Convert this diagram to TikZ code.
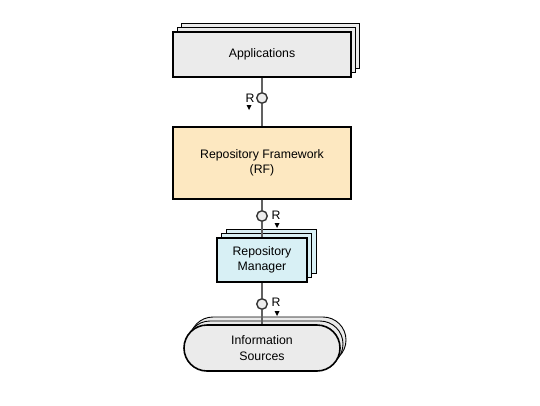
\documentclass[tikz,border=0pt]{standalone}
\usepackage{fontspec}
\setmainfont{Liberation Sans}
\begin{document}
\begin{tikzpicture}[x=1pt,y=-1pt,
  front/.style={draw=black,line width=1.6pt,inner sep=0pt,align=center,font=\fontsize{12.3}{15.5}\selectfont},
  back/.style={draw=black,line width=0.9pt,inner sep=0pt},
  conn/.style={draw=black!62,line width=1.5pt},
  iface/.style={circle,draw=black!80,fill=black!7,line width=1.4pt,minimum size=10.5pt,inner sep=0pt},
  rlabel/.style={inner sep=0pt,font=\fontsize{12.3}{14}\selectfont},
  tri/.style={fill=black}]
\useasboundingbox (0,0) rectangle (540,405);
% Applications
\node[back,fill=black!8,minimum width=178pt,minimum height=45pt] (app3) at (270,45.5) {};
\node[back,fill=black!8,minimum width=178pt,minimum height=45pt] (app2) at (266,50) {};
\node[front,fill=black!8,minimum width=178pt,minimum height=45pt] (app) at (262,54.5) {Applications};
% Repository Framework
\node[front,fill={rgb,255:red,253;green,232;blue,193},minimum width=178pt,minimum height=72pt] (rf) at (262,163) {Repository Framework\\(RF)};
% Repository Manager
\node[back,fill={rgb,255:red,216;green,240;blue,245},minimum width=90pt,minimum height=44pt] (rm3) at (271,251) {};
\node[back,fill={rgb,255:red,216;green,240;blue,245},minimum width=90pt,minimum height=44pt] (rm2) at (266.5,255.5) {};
\node[front,fill={rgb,255:red,216;green,240;blue,245},minimum width=90pt,minimum height=44pt] (rm) at (262,260) {Repository\\Manager};
% Information Sources
\node[back,fill=black!8,rounded corners=23pt,minimum width=156pt,minimum height=46pt] (is3) at (268,340) {};
\node[back,fill=black!8,rounded corners=23pt,minimum width=156pt,minimum height=46pt] (is2) at (265,344) {};
\node[front,fill=black!8,rounded corners=23pt,minimum width=156pt,minimum height=46pt] (is) at (262,348) {Information\\Sources};
% interfaces
\node[iface] (c1) at (262,98) {};
\node[iface] (c2) at (262,216) {};
\node[iface] (c3) at (262,304) {};
\draw[conn] (app) -- (c1);
\draw[conn] (c1) -- (rf);
\draw[conn] (rf) -- (c2);
\draw[conn] (c2) -- (rm);
\draw[conn] (rm) -- (c3);
\draw[conn] (c3) -- (is);
% R labels
\node[rlabel] (r1) at (250,98) {R};
\node[rlabel] (r2) at (276,215) {R};
\node[rlabel] (r3) at (276,302) {R};
\fill[tri] (246.5,105) -- (251.5,105) -- (249,110) -- cycle;
\fill[tri] (274.5,223) -- (279.5,223) -- (277,228) -- cycle;
\fill[tri] (274.5,311) -- (279.5,311) -- (277,316) -- cycle;
\end{tikzpicture}
\end{document}
